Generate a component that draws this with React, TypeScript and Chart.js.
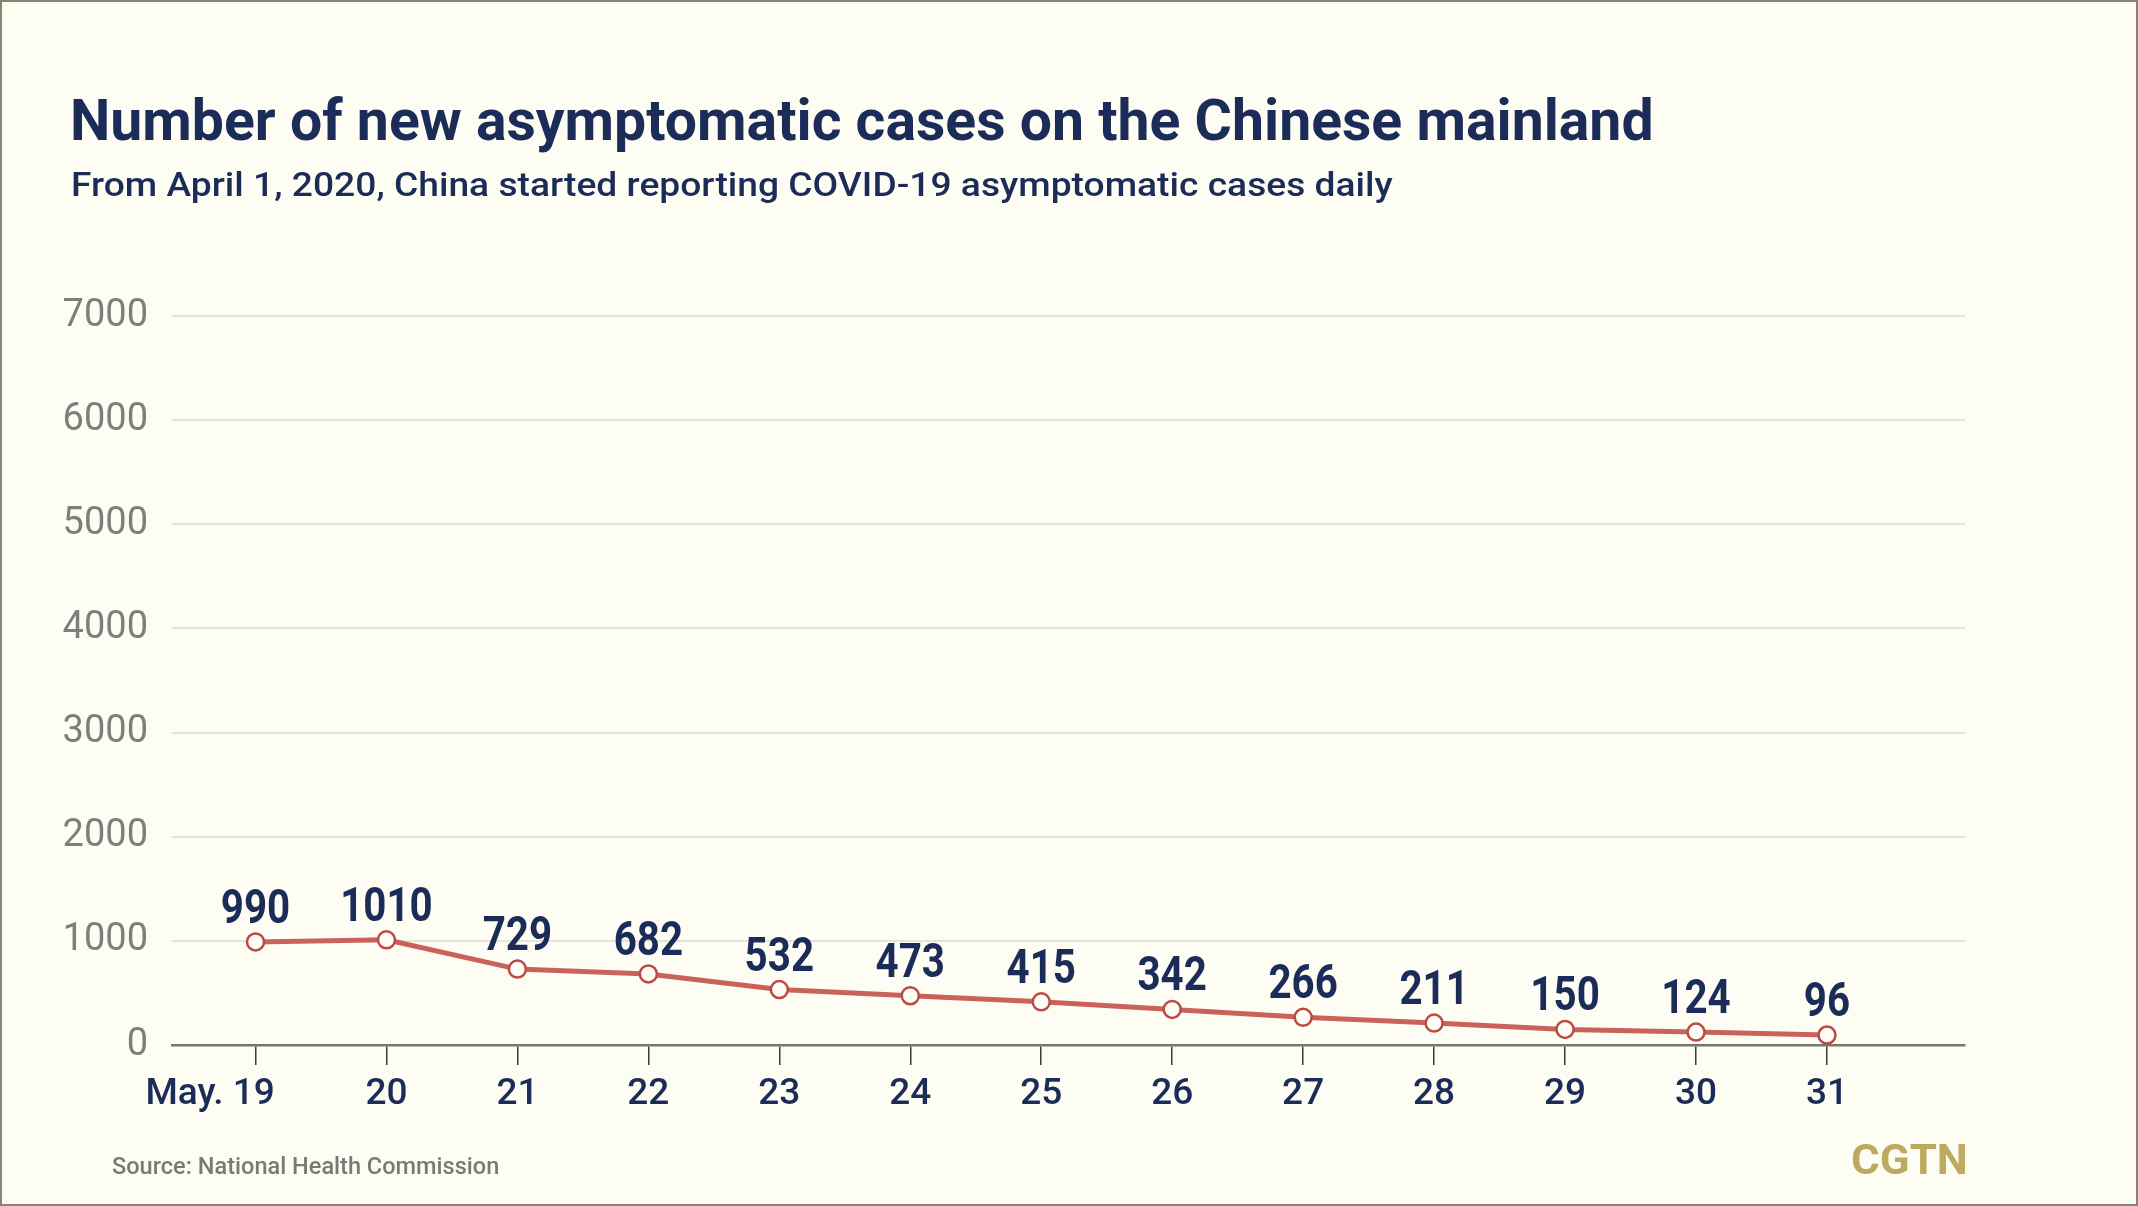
import React, { useEffect, useRef } from "react";
import { Chart, registerables } from "chart.js";

Chart.register(...registerables);

// ---------- data ----------
const dateLabels = ["May. 19", "20", "21", "22", "23", "24", "25", "26", "27", "28", "29", "30", "31"];
const newCases = [990, 1010, 729, 682, 532, 473, 415, 342, 266, 211, 150, 124, 96];
const yMin = 0;
const yMax = 7000;
const yStep = 1000;

const TITLE = "Number of new asymptomatic cases on the Chinese mainland";
const SUBTITLE = "From April 1, 2020, China started reporting COVID-19 asymptomatic cases daily";
const SOURCE = "Source: National Health Commission";
const BRAND = "CGTN";

// ---------- styles ----------
const W = 2138;
const H = 1206;
const BG = "#fefdf3";
const NAVY = "#1b2c58";
const LINE = "#c9625b";
const POINT_BORDER = "#b94b44";
const GRID = "#e6e4d8";
const AXIS = "#77776a";
const YTICK = "#7f7d7a";
const GOLD = "#bea960";
const SRC = "#7b7975";
const FONT = "Roboto";

let measureCtx: CanvasRenderingContext2D | null = null;
function measure(text: string, font: string) {
  if (!measureCtx) measureCtx = document.createElement("canvas").getContext("2d");
  const c = measureCtx!;
  c.font = font;
  const m = c.measureText(text);
  return {
    ink: m.actualBoundingBoxLeft + m.actualBoundingBoxRight,
    left: m.actualBoundingBoxLeft,
    asc: m.fontBoundingBoxAscent,
    desc: m.fontBoundingBoxDescent,
    adv: m.width,
  };
}

type TextProps = {
  text: string;
  left: number;
  baseline: number;
  size: number;
  weight: number;
  color: string;
  width: number;
};

function FittedText({ text, left, baseline, size, weight, color, width }: TextProps) {
  const font = `${weight} ${size}px ${FONT}`;
  const m = measure(text, font);
  const k = width / m.ink;
  const baseOffset = (size - (m.asc + m.desc)) / 2 + m.asc;
  return (
    <div
      style={{
        position: "absolute",
        left: left + m.left * k,
        top: baseline - baseOffset,
        fontFamily: FONT,
        fontWeight: weight,
        fontSize: size,
        lineHeight: `${size}px`,
        color,
        whiteSpace: "nowrap",
        transform: `scaleX(${k})`,
        transformOrigin: "0 0",
      }}
    >
      {text}
    </div>
  );
}

const valueLabels = {
  id: "valueLabels",
  afterDatasetsDraw(chart: any) {
    const meta = chart.getDatasetMeta(0);
    const ctx = chart.ctx as CanvasRenderingContext2D;
    ctx.save();
    ctx.font = `700 48px ${FONT}`;
    ctx.fillStyle = NAVY;
    ctx.textAlign = "center";
    ctx.textBaseline = "alphabetic";
    meta.data.forEach((pt: any, i: number) => {
      ctx.save();
      ctx.translate(pt.x, pt.y - 19);
      ctx.scale(0.84, 1);
      ctx.fillText(String(newCases[i]), 0, 0);
      ctx.restore();
    });
    ctx.restore();
  },
};

// The first label ("May. 19") keeps its day number on the tick, with the month reaching left:
// pad its right side by the width of the prefix so the centred label puts "19" on the tick.
function xLabel(i: number): string {
  const lab = dateLabels[i] ?? "";
  const sp = lab.lastIndexOf(" ");
  if (sp < 0) return lab;
  const tickFont = `500 37px ${FONT}`;
  const prefixW = measure(lab.slice(0, sp + 1), tickFont).adv;
  const spaceW = measure("\u2009", tickFont).adv || 1;
  const n = Math.round(prefixW / spaceW);
  return lab + "\u2009".repeat(n);
}

function LineChart() {
  const ref = useRef<HTMLCanvasElement>(null);
  useEffect(() => {
    if (!ref.current) return;
    const points = newCases.map((v, i) => ({ x: i, y: v }));
    const chart = new Chart(ref.current, {
      type: "line",
      data: {
        datasets: [
          {
            data: points,
            borderColor: LINE,
            borderWidth: 5,
            tension: 0,
            pointRadius: 8.5,
            pointHoverRadius: 8.5,
            pointBorderWidth: 2.5,
            pointBackgroundColor: "#fffdf6",
            pointBorderColor: POINT_BORDER,
          },
        ],
      },
      options: {
        animation: false,
        responsive: false,
        devicePixelRatio: 1,
        layout: { padding: { left: 0, right: 173, top: 316, bottom: 0 } },
        plugins: { legend: { display: false }, tooltip: { enabled: false }, title: { display: false } },
        scales: {
          x: {
            type: "linear",
            min: -0.6376,
            max: 13.054,
            afterBuildTicks: (scale: any) => {
              scale.ticks = dateLabels.map((_, i) => ({ value: i }));
            },
            afterFit: (scale: any) => {
              scale.height = 161;
            },
            grid: {
              drawOnChartArea: false,
              drawTicks: true,
              tickLength: 20,
              color: "#3a3a3a",
              lineWidth: 1.5,
            },
            border: { display: true, color: AXIS, width: 2.5 },
            ticks: {
              autoSkip: false,
              maxRotation: 0,
              padding: 8,
              color: NAVY,
              font: { family: FONT, size: 37, weight: 500 },
              callback: (v: any) => xLabel(Number(v)),
            },
          },
          y: {
            min: yMin,
            max: yMax,
            afterFit: (scale: any) => {
              scale.width = 172;
            },
            grid: { color: GRID, lineWidth: 2, drawTicks: false },
            border: { display: false },
            ticks: {
              stepSize: yStep,
              padding: 24,
              color: YTICK,
              font: { family: FONT, size: 38, weight: 400 },
              callback: (v: any) => String(v),
            },
          },
        },
      },
      plugins: [valueLabels],
    });
    return () => chart.destroy();
  }, []);
  return <canvas ref={ref} width={W} height={H} style={{ position: "absolute", left: 0, top: 0, width: W, height: H }} />;
}

export default function App() {
  useEffect(() => {
    document.body.style.margin = "0";
  }, []);
  return (
    <div
      style={{
        position: "fixed",
        left: 0,
        top: 0,
        width: W,
        height: H,
        background: BG,
        overflow: "hidden",
      }}
    >
      <LineChart />
      <FittedText text={TITLE} left={73} baseline={140} size={58} weight={700} color={NAVY} width={1578} />
      <FittedText text={SUBTITLE} left={73} baseline={196} size={34} weight={500} color={NAVY} width={1320} />
      <FittedText text={SOURCE} left={112} baseline={1174} size={24} weight={500} color={SRC} width={386} />
      <FittedText text={BRAND} left={1852} baseline={1174} size={42} weight={700} color={GOLD} width={113} />
      <div
        style={{
          position: "absolute",
          left: 0,
          top: 0,
          width: W,
          height: H,
          boxSizing: "border-box",
          border: "2px solid #85866c",
          pointerEvents: "none",
        }}
      />
    </div>
  );
}
